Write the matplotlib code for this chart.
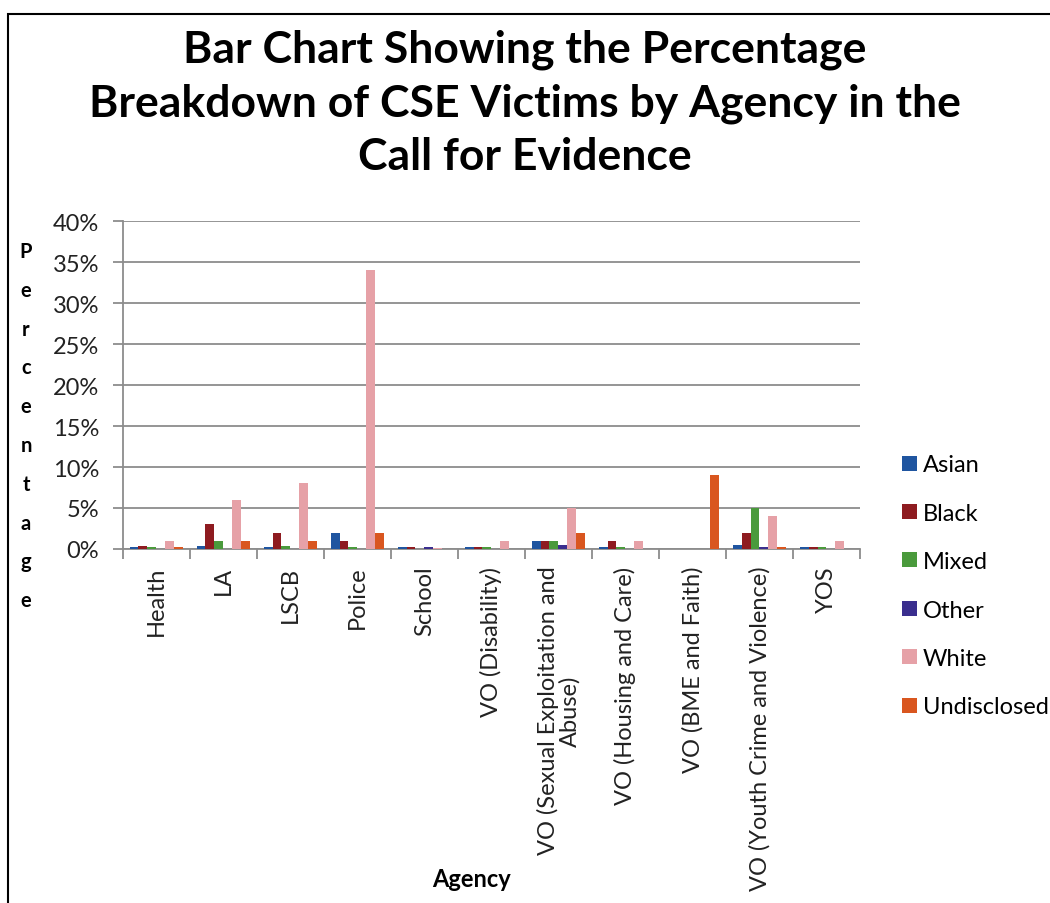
import matplotlib
matplotlib.use("Agg")
import matplotlib.pyplot as plt
import matplotlib.patches as mpatches
import numpy as np
from matplotlib.ticker import FuncFormatter, MultipleLocator

categories = ["Health", "LA", "LSCB", "Police", "School", "VO (Disability)",
              "VO (Sexual Exploitation and\nAbuse)", "VO (Housing and Care)",
              "VO (BME and Faith)", "VO (Youth Crime and Violence)", "YOS"]
series_names = ["Asian", "Black", "Mixed", "Other", "White", "Undisclosed"]
asian = [0.2, 0.4, 0.3, 2.0, 0.2, 0.2, 1.0, 0.3, 0.0, 0.5, 0.2]
black = [0.4, 3.0, 2.0, 1.0, 0.2, 0.2, 1.0, 1.0, 0.0, 2.0, 0.2]
mixed = [0.2, 1.0, 0.4, 0.2, 0.0, 0.2, 1.0, 0.2, 0.0, 5.0, 0.2]
other = [0.0, 0.0, 0.0, 0.0, 0.2, 0.0, 0.5, 0.0, 0.0, 0.3, 0.0]
white = [1.0, 6.0, 8.0, 34.0, 0.1, 1.0, 5.0, 1.0, 0.0, 4.0, 1.0]
undisclosed = [0.2, 1.0, 1.0, 2.0, 0.0, 0.0, 2.0, 0.0, 9.0, 0.3, 0.0]
series = [asian, black, mixed, other, white, undisclosed]
colors = ["#1F55A0", "#8E1B20", "#4A9A3C", "#3A2E8E", "#E6A1A7", "#D9561F"]

plt.rcParams['font.family'] = ['Lato', 'DejaVu Sans']

fig = plt.figure(figsize=(10.5, 9.04), dpi=100)
ax = fig.add_axes([0.117, 0.3916, 0.702, 0.3628])

n = len(series)
w = 1.0 / (n + 1.5)
x = np.arange(len(categories))
for k, (vals, c, name) in enumerate(zip(series, colors, series_names)):
    ax.bar(x - 0.5 + 0.75 * w + (k + 0.5) * w, vals, width=w, color=c,
           label=name, align='center', zorder=3)

ax.set_xlim(-0.5, len(categories) - 0.5)
ax.set_ylim(0, 40)
ax.yaxis.set_major_locator(MultipleLocator(5))
ax.yaxis.set_major_formatter(FuncFormatter(lambda v, p: f"{int(v)}%"))
ax.grid(axis='y', color='#8C8C8C', linewidth=1.3, zorder=0)
for s in ['top', 'right']:
    ax.spines[s].set_visible(False)
for s in ['left', 'bottom']:
    ax.spines[s].set_color('#8C8C8C')
    ax.spines[s].set_linewidth(1.3)
ax.tick_params(axis='y', labelsize=17, length=7, color='#8C8C8C', width=1.3,
               pad=10, labelcolor='#222222')
ax.set_xticks(x)
ax.set_xticklabels(categories, rotation=90, fontsize=17, va='top', ha='center',
                   multialignment='center', color='#222222', linespacing=1.0)
ax.tick_params(axis='x', length=0, pad=12)
ax.set_xticks(np.arange(len(categories) + 1) - 0.5, minor=True)
ax.tick_params(axis='x', which='minor', length=7, color='#8C8C8C', width=1.3)

fig.text(0.5, 0.886, "Bar Chart Showing the Percentage\nBreakdown of CSE Victims by Agency in the\nCall for Evidence",
         ha='center', va='center', fontsize=32, fontweight='bold', linespacing=1.4)

letters = "Percentage"
for i, ch in enumerate(letters):
    fig.text(26 / 1050, 1 - (252 + i * 38.8) / 904, ch, ha='center', va='center',
             fontsize=14.5, fontweight='bold')

fig.text(472 / 1050, 1 - 880 / 904, "Agency", ha='center', va='center',
         fontsize=17, fontweight='bold')

leg = fig.legend(loc='upper left', bbox_to_anchor=(893 / 1050, 1 - 446 / 904),
                 frameon=False, fontsize=17, handlelength=0.6, handleheight=0.6,
                 handletextpad=0.25, labelspacing=1.16, borderaxespad=0)

rect = mpatches.Rectangle((8 / 1050, -0.1), 1.2, 1 - 15 / 904 + 0.1,
                          transform=fig.transFigure, fill=False, edgecolor='black',
                          linewidth=1.5, clip_on=False)
fig.patches.append(rect)

fig.savefig("out.png", dpi=100)
